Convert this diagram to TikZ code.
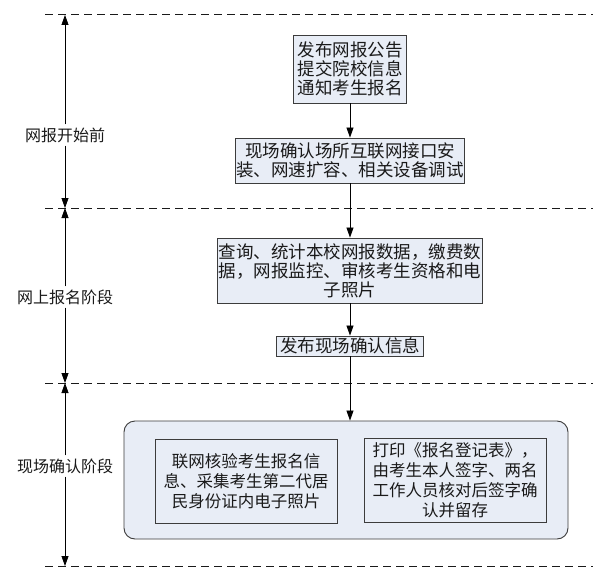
\documentclass[tikz,border=0pt]{standalone}
\usepackage{fontspec}
\setmainfont{Noto Sans CJK SC}
\usepackage{tikz}
\usetikzlibrary{arrows.meta,positioning}
\definecolor{boxfill}{HTML}{E8EDF6}
\definecolor{boxline}{HTML}{3C3C3C}
\definecolor{ink}{HTML}{1A1A1A}
\tikzset{
    stepbox/.style={draw=boxline,fill=boxfill,line width=0.9pt,inner sep=1pt,
      font=\fontsize{17.5}{19}\selectfont,align=center,text=ink},
    groupbox/.style={draw=boxline,fill=boxfill,line width=0.9pt,rounded corners=11pt},
    phaselabel/.style={fill=white,inner xsep=1pt,inner ysep=3pt,text=ink,
      font=\fontsize{16}{18}\selectfont},
    flowarrow/.style={-{Triangle[length=10pt,width=7pt]},draw=black,line width=0.8pt},
    phaseline/.style={draw=ink,line width=1pt,dash pattern=on 8pt off 5pt}
}

\begin{document}
\begin{tikzpicture}[x=1pt,y=-1pt]
  \useasboundingbox[fill=white] (0,0) rectangle (600,583);
  % phase borders
  \foreach \i/\y in {0/15,1/208,2/383,3/566} {
    \coordinate (d\i) at (65,\y);
    \draw[phaseline] (45,\y) -- (593,\y);
  }
  \node[phaselabel] (p1) at (65,135) {网报开始前};
  \node[phaselabel] (p2) at (65,297) {网上报名阶段};
  \node[phaselabel] (p3) at (65,466) {现场确认阶段};
  \draw[flowarrow] (p1) -- (d0);
  \draw[flowarrow] (p1) -- (d1);
  \draw[flowarrow] (p2) -- (d1);
  \draw[flowarrow] (p2) -- (d2);
  \draw[flowarrow] (p3) -- (d2);
  \draw[flowarrow] (p3) -- (d3);
  % steps
  \node[stepbox,minimum width=113pt,minimum height=68pt] (notice) at (350,69)
    {发布网报公告\\提交院校信息\\通知考生报名};
  \node[stepbox,minimum width=229pt,minimum height=45pt] (setup) at (350,160.5)
    {现场确认场所互联网接口安\\装、网速扩容、相关设备调试};
  \node[stepbox,minimum width=262pt,minimum height=65pt] (query) at (350,270.5)
    {查询、统计本校网报数据，缴费数\\据，网报监控、审核考生资格和电\\子照片};
  \node[stepbox,minimum width=147pt,minimum height=20pt] (publish) at (350,346)
    {发布现场确认信息};
  \node[groupbox,minimum width=444pt,minimum height=118pt] (onsite) at (346,480) {};
  \node[stepbox,font=\fontsize{16.5}{20}\selectfont,minimum width=182pt,minimum height=84pt]
    (verify) at (246,481) {联网核验考生报名信\\息、采集考生第二代居\\民身份证内电子照片};
  \node[stepbox,font=\fontsize{16.5}{20}\selectfont,minimum width=182pt,minimum height=84pt]
    (sign) at (455,480.5) {打印《报名登记表》，\\由考生本人签字、两名\\工作人员核对后签字确\\认并留存};
  \draw[flowarrow] (notice) -- (setup);
  \draw[flowarrow] (setup) -- (query);
  \draw[flowarrow] (query) -- (publish);
  \draw[flowarrow] (publish.south) -- (publish.south |- onsite.north);
\end{tikzpicture}
\end{document}
